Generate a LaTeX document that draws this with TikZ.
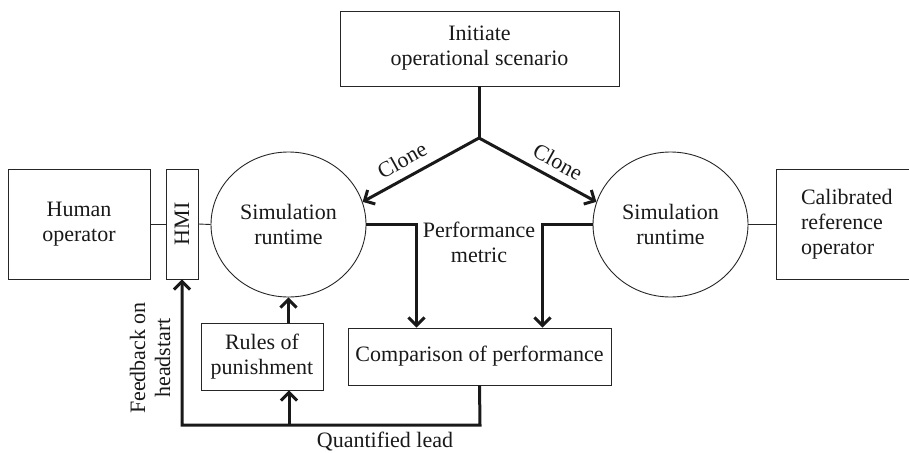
\documentclass[tikz,border=0pt]{standalone}
\usepackage{fontspec}
\setmainfont{Liberation Serif}
\usetikzlibrary{shapes.geometric,arrows.meta}
\begin{document}
\begin{tikzpicture}[x=1pt,y=-1pt,
  every node/.style={font=\fontsize{22}{25}\selectfont, text=black!90},
  box/.style={draw=black!85, line width=0.9pt, rectangle, inner sep=0pt, align=center},
  oval/.style={draw=black!85, line width=0.9pt, ellipse, inner sep=0pt, minimum width=155pt, minimum height=145pt, align=center},
  thin/.style={draw=black!85, line width=0.9pt},
  flow/.style={draw=black!90, line width=3pt},
  flowarrow/.style={flow, -{Straight Barb[length=8pt,width=16pt]}},
  lbl/.style={inner sep=1pt, align=center}
]
\useasboundingbox (0,0) rectangle (909,452);
\clip (0,0) rectangle (909,452);

\node[box, minimum width=279pt, minimum height=75pt] (top) at (479.5,48.5) {Initiate\\operational scenario};
\node[box, minimum width=142pt, minimum height=110pt] (human) at (79,224) {Human\\operator};
\node[box, minimum width=32pt, minimum height=110pt] (hmi) at (182,224) {\rotatebox{90}{HMI}};
\node[oval] (L) at (288.5,224.5) {Simulation\\runtime};
\node[oval] (R) at (670.5,224.5) {Simulation\\runtime};
\node[box, minimum width=160pt, minimum height=110pt, text width=110pt, inner xsep=25pt, align=left] (cal) at (856,224) {Calibrated\\reference\\operator};
\node[box, minimum width=122pt, minimum height=67pt] (rules) at (262,356.5) {Rules of\\punishment};
\node[box, minimum width=263pt, minimum height=57pt] (comp) at (479.5,356.5) {Comparison of performance};

\coordinate (j) at (479,138);
\coordinate (q) at (480,425);
\coordinate (qr) at (289,425);

% thin connectors
\draw[thin] (human.east) -- (hmi.west);
\draw[thin] (hmi.east) -- (L.west);
\draw[thin] (R.east) -- (cal.west |- R.east);

% clone
\draw[flow] (top.south -| j) -- (j);
\draw[flowarrow] (j) -- (L.17);
\draw[flowarrow] (j) -- (R.163);
\node[lbl, rotate=29] (cl) at (402,160) {Clone};
\node[lbl, rotate=-29] (cr) at (558,162) {Clone};

% performance metric
\draw[flowarrow] (L.east) -| ([xshift=-63pt]comp.north);
\draw[flowarrow] (R.west) -| ([xshift=63pt]comp.north);
\node[lbl] (pm) at (479,242) {Performance\\metric};

% rules to sim
\draw[flowarrow] (rules.north -| L.south) -- (L.south);

% quantified lead
\draw[flowarrow] (comp.south) -- (q) -| (hmi.south);
\draw[flowarrow] (qr) -- (rules.south -| qr);
\node[lbl] (ql) at (385,442) {Quantified lead};
\node[lbl, rotate=90] (fb) at (150,358) {Feedback on\\headstart};
\end{tikzpicture}
\end{document}
